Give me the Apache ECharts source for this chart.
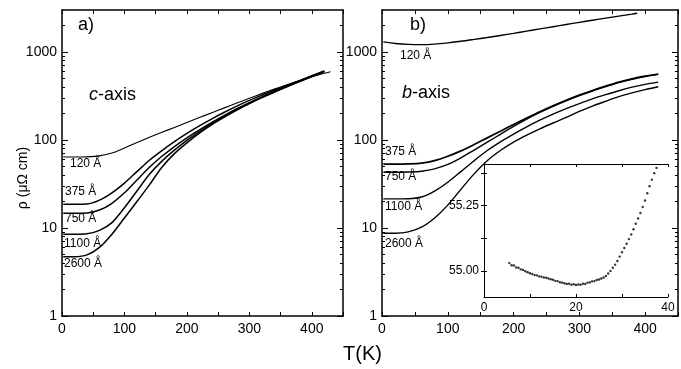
<!DOCTYPE html>
<html><head><meta charset="utf-8">
<script src="https://cdn.jsdelivr.net/npm/echarts@6/dist/echarts.min.js"></script>
<style>html,body{margin:0;padding:0;background:#fff}#c{width:681px;height:369px}</style>
</head><body><div id="c"></div>
<script>
// ---- panel a) c-axis : T (K) and rho (µΩ cm) ----
const cT    = [2, 20, 40, 60, 80, 100, 120, 140, 160, 180, 200, 220, 240, 260, 280, 300, 320, 340, 360, 380, 400, 420, 430];
const c120  = [64.0, 64.0, 64.3, 66.0, 71.0, 81.0, 93.5, 107.2, 122.2, 139.0, 158.1, 179.9, 204.2, 231.7, 263.0, 297.8, 336.5, 378.4, 423.6, 472.1, 522.4, 572.8, 597.0];
const c375  = [18.6, 18.6, 18.7, 20.7, 25.1, 32.4, 43.7, 58.9, 75.9, 95.9, 118.9, 144.5, 173.8, 206.5, 242.7, 281.8, 323.6, 367.3, 416.9, 473.2, 537.0, 609.5, null];
const c750  = [14.7, 14.7, 14.8, 16.0, 19.1, 25.1, 35.1, 49.0, 65.3, 84.1, 105.9, 130.3, 158.5, 190.5, 226.5, 266.1, 309.0, 354.8, 407.4, 465.6, 530.9, 605.3, null];
const c1100 = [8.5, 8.5, 8.6, 9.4, 11.5, 17.0, 26.3, 40.7, 57.5, 76.7, 98.9, 124.5, 153.1, 185.4, 221.3, 261.8, 305.5, 352.4, 404.6, 462.4, 527.2, 602.6, null];
const c2600 = [4.70, 4.71, 4.95, 6.03, 8.51, 13.0, 20.0, 30.9, 49.0, 70.0, 92.9, 119.7, 149.6, 182.0, 218.8, 258.8, 302.7, 349.9, 402.7, 460.3, 524.8, 599.8, null];

// ---- panel b) b-axis ----
const bT    = [2, 20, 40, 60, 80, 100, 120, 140, 160, 180, 200, 220, 240, 260, 280, 300, 320, 340, 360, 380, 400, 420];
const b120T = [2, 20, 40, 60, 80, 100, 120, 140, 160, 180, 200, 220, 240, 260, 280, 300, 320, 340, 360, 380, 388];
const b120  = [1303, 1250, 1219, 1211, 1230, 1271, 1324, 1390, 1462, 1542, 1629, 1726, 1828, 1936, 2051, 2173, 2296, 2427, 2559, 2692, 2754];
const b375  = [53.3, 53.3, 53.6, 54.7, 58.3, 65.3, 75.2, 88.7, 105.7, 125.9, 150.0, 177.8, 209.9, 245.5, 283.1, 323.6, 365.6, 409.3, 455.0, 495.5, 530.9, 562.3];
const b750  = [43.0, 43.0, 43.3, 44.2, 47.0, 52.7, 62.7, 76.9, 94.4, 116.1, 142.9, 173.0, 205.6, 241.5, 279.3, 319.2, 360.6, 403.6, 448.7, 489.8, 524.8, 555.9];
const b1100 = [21.4, 21.4, 21.5, 22.5, 26.3, 33.1, 43.7, 58.1, 75.9, 95.1, 116.9, 141.3, 167.9, 196.8, 227.5, 259.4, 293.1, 327.3, 363.1, 398.1, 428.5, 455.0];
const b2600 = [8.71, 8.71, 9.02, 10.2, 13.0, 18.2, 27.5, 41.2, 58.2, 75.9, 94.4, 113.5, 134.0, 156.0, 180.3, 211.3, 242.7, 275.4, 310.5, 342.8, 373.3, 402.7];

// ---- inset (K, µΩ cm) ----
const insetT = [5.5,6.0,6.5,7.0,7.5,8.0,8.5,9.0,9.5,10.0,10.5,11.0,11.5,12.0,12.5,13.0,13.5,14.0,14.5,15.0,15.5,16.0,16.5,17.0,17.5,18.0,18.5,19.0,19.5,20.0,20.5,21.0,21.5,22.0,22.5,23.0,23.5,24.0,24.5,25.0,25.5,26.0,26.5,27.0,27.5,28.0,28.5,29.0,29.5,30.0,30.5,31.0,31.5,32.0,32.5,33.0,33.5,34.0,34.5,35.0,35.5,36.0,36.5,37.0,37.5];
const insetR = [55.030,55.022,55.021,55.013,55.012,55.006,55.004,54.999,54.995,54.991,54.988,54.984,54.983,54.979,54.978,54.975,54.974,54.971,54.968,54.966,54.962,54.961,54.957,54.955,54.953,54.950,54.951,54.947,54.949,54.946,54.948,54.947,54.951,54.950,54.955,54.956,54.960,54.961,54.965,54.967,54.971,54.975,54.981,54.990,55.000,55.012,55.024,55.038,55.055,55.072,55.088,55.104,55.122,55.140,55.160,55.181,55.201,55.222,55.245,55.270,55.298,55.325,55.350,55.375,55.395];

// tick labels
const yMajor = [1, 10, 100, 1000];
const yMinor = [2,3,4,5,6,7,8,9,20,30,40,50,60,70,80,90,200,300,400,500,600,700,800,900,2000];
const insetYTicks = [55.0, 55.125, 55.25, 55.375];
const insetYLabels = [55.0, 55.25];

const FONT = '"Liberation Sans", Arial, sans-serif';
const BLACK = '#000';
const chart = echarts.init(document.getElementById('c'), null, {renderer: 'canvas'});

function zip(xs, ys) { return xs.map((x, i) => [x, ys[i]]).filter(p => p[1] != null); }

function mainX(gi) {
  const base = {
    type: 'value', gridIndex: gi, min: 0, max: 450, interval: 50,
    splitLine: {show: false},
    axisLine: {lineStyle: {color: BLACK, width: 1.5}},
    axisTick: {inside: true, length: 4, lineStyle: {color: BLACK, width: 1}}
  };
  return [
    Object.assign({}, base, {position: 'bottom',
      axisLabel: {color: BLACK, fontSize: 14, fontFamily: FONT, margin: 6,
        formatter: v => (v % 100 === 0 && v <= 400) ? String(v) : ''}}),
    Object.assign({}, base, {position: 'top', axisLabel: {show: false}})
  ];
}
function mainY(gi) {
  const base = {
    type: 'log', logBase: 10, gridIndex: gi, min: 1, max: 3000,
    splitLine: {show: false}, minorSplitLine: {show: false},
    axisLine: {lineStyle: {color: BLACK, width: 1.5}}
  };
  return [
    Object.assign({}, base, {position: 'left',
      axisTick: {inside: true, length: 6, customValues: yMajor, lineStyle: {color: BLACK}},
      axisLabel: {customValues: yMajor, color: BLACK, fontSize: 14, fontFamily: FONT, margin: 5,
        formatter: v => String(Math.round(v))}}),
    Object.assign({}, base, {position: 'left', axisLine: {show: false},
      axisTick: {inside: true, length: 3, customValues: yMinor, lineStyle: {color: BLACK}},
      axisLabel: {show: false}}),
    Object.assign({}, base, {position: 'right',
      axisTick: {inside: true, length: 6, customValues: yMajor, lineStyle: {color: BLACK}},
      axisLabel: {show: false}}),
    Object.assign({}, base, {position: 'right', axisLine: {show: false},
      axisTick: {inside: true, length: 3, customValues: yMinor, lineStyle: {color: BLACK}},
      axisLabel: {show: false}})
  ];
}

const xAxis = [].concat(mainX(0), mainX(1));
const yAxis = [].concat(mainY(0), mainY(1));
// inset axes
const insetXBase = {type: 'value', gridIndex: 2, min: 0, max: 40, interval: 10, z: 6,
  splitLine: {show: false}, axisLine: {lineStyle: {color: BLACK, width: 1}},
  axisTick: {inside: true, length: 3, lineStyle: {color: BLACK}}};
xAxis.push(Object.assign({}, insetXBase, {position: 'bottom',
  axisLabel: {color: BLACK, fontSize: 12, fontFamily: FONT, margin: 5, formatter: v => v % 20 === 0 ? String(v) : ''}}));
xAxis.push(Object.assign({}, insetXBase, {position: 'top', axisLabel: {show: false}}));
const insetYBase = {type: 'value', gridIndex: 2, min: 54.9, max: 55.41, z: 6,
  splitLine: {show: false}, axisLine: {lineStyle: {color: BLACK, width: 1}},
  axisTick: {inside: true, length: 3, customValues: insetYTicks, lineStyle: {color: BLACK}}};
yAxis.push(Object.assign({}, insetYBase, {position: 'left',
  axisLabel: {customValues: insetYLabels, color: BLACK, fontSize: 12, fontFamily: FONT, margin: 5, formatter: v => v.toFixed(2)}}));
yAxis.push(Object.assign({}, insetYBase, {position: 'right', axisLabel: {show: false}}));

function line(xi, yi, xs, ys, w) {
  return {type: 'line', xAxisIndex: xi, yAxisIndex: yi, data: zip(xs, ys),
    showSymbol: false, symbol: 'none', smooth: 0.3,
    lineStyle: {color: BLACK, width: w}, z: 2, silent: true, animation: false};
}

const series = [
  line(0, 0, cT, c120, 1.1),
  line(0, 0, cT, c375, 1.5),
  line(0, 0, cT, c750, 1.5),
  line(0, 0, cT, c1100, 1.5),
  line(0, 0, cT, c2600, 1.5),
  line(2, 4, b120T, b120, 1.4),
  line(2, 4, bT, b375, 1.7),
  line(2, 4, bT, b750, 1.4),
  line(2, 4, bT, b1100, 1.4),
  line(2, 4, bT, b2600, 1.4),
  {type: 'scatter', xAxisIndex: 4, yAxisIndex: 8, data: zip(insetT, insetR),
    symbol: 'circle', symbolSize: 2.4, itemStyle: {color: BLACK}, z: 7, silent: true, animation: false}
];

function txt(left, top, text, size, extra) {
  return Object.assign({type: 'text', left: left, top: top, z: 20, silent: true,
    style: {text: text, fill: BLACK, font: size + 'px ' + FONT}}, extra || {});
}

const graphic = [
  txt(78, 16, 'a)', 18),
  txt(410, 16, 'b)', 18),
  {type: 'text', left: 89, top: 86, z: 20, silent: true,
    style: {text: '{i|c}-axis', fill: BLACK, font: '18px ' + FONT,
      rich: {i: {fontStyle: 'italic', fontSize: 18, fontFamily: FONT, fill: BLACK}}}},
  {type: 'text', left: 402, top: 84, z: 20, silent: true,
    style: {text: '{i|b}-axis', fill: BLACK, font: '18px ' + FONT,
      rich: {i: {fontStyle: 'italic', fontSize: 18, fontFamily: FONT, fill: BLACK}}}},
  txt(70, 158, '120 Å', 12),
  txt(65, 186, '375 Å', 12),
  txt(65, 213, '750 Å', 12),
  txt(64, 238, '1100 Å', 12),
  txt(64, 258, '2600 Å', 12),
  txt(400, 50, '120 Å', 12),
  txt(385, 146, '375 Å', 12),
  txt(385, 171, '750 Å', 12),
  txt(385, 201, '1100 Å', 12),
  txt(385, 238, '2600 Å', 12),
  txt(343, 344, 'T(K)', 20),
  {type: 'text', x: 23, y: 178, rotation: Math.PI / 2, z: 20, silent: true,
    style: {text: 'ρ (μΩ cm)', fill: BLACK, font: '14px ' + FONT, align: 'center', verticalAlign: 'middle'}}
];

chart.setOption({
  backgroundColor: '#fff',
  animation: false,
  grid: [
    {left: 62, top: 10, width: 281, height: 306, containLabel: false},
    {left: 382, top: 10, width: 297, height: 306, containLabel: false},
    {left: 484, top: 164, width: 184, height: 133, containLabel: false, show: true,
      backgroundColor: '#fff', borderWidth: 0, z: 5}
  ],
  xAxis: xAxis,
  yAxis: yAxis,
  series: series,
  graphic: graphic
});
</script>
</body></html>
